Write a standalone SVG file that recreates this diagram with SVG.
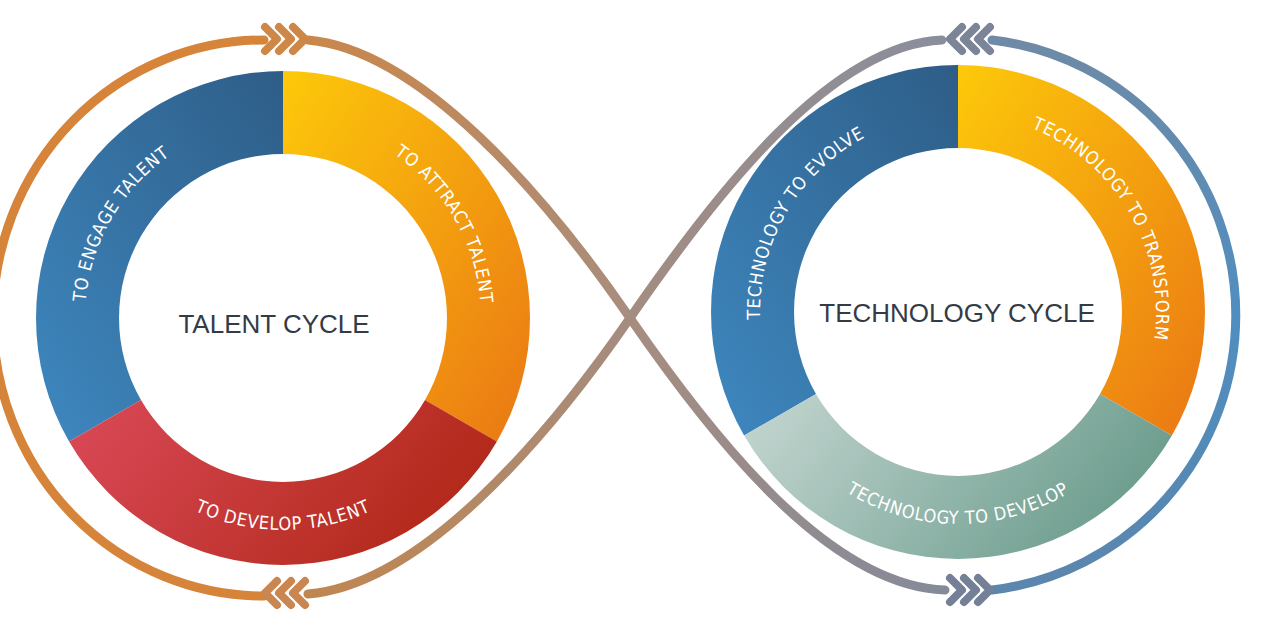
<svg xmlns="http://www.w3.org/2000/svg" width="1288" height="632" viewBox="0 0 1288 632">
<style>
.lbl{font-family:"Liberation Sans Narrow","DejaVu Sans Condensed","Liberation Sans",sans-serif;font-size:18px;fill:#fff;letter-spacing:0.8px}
.title{font-family:"Liberation Sans","DejaVu Sans",sans-serif;font-size:26px;fill:#343b45}
.chev{fill:none;stroke-width:8;stroke-linecap:round;stroke-linejoin:round}
.arc{fill:none;stroke-width:9;stroke-linecap:round}
</style>
<defs>
<linearGradient id="gY" x1="0" y1="0" x2="1" y2="1"><stop offset="0" stop-color="#fdc90a"/><stop offset="1" stop-color="#ea7714"/></linearGradient>
<linearGradient id="gB" x1="1" y1="0" x2="0" y2="1"><stop offset="0" stop-color="#2e5d87"/><stop offset="1" stop-color="#3e88c0"/></linearGradient>
<linearGradient id="gR" x1="0" y1="0" x2="1" y2="0.3"><stop offset="0" stop-color="#da4a59"/><stop offset="1" stop-color="#b3291a"/></linearGradient>
<linearGradient id="gT" x1="0" y1="0" x2="1" y2="0.3"><stop offset="0" stop-color="#c6d7d2"/><stop offset="1" stop-color="#6e9e8f"/></linearGradient>
<linearGradient id="gA" gradientUnits="userSpaceOnUse" x1="308" y1="40" x2="945" y2="590"><stop offset="0" stop-color="#c9874c"/><stop offset="0.5" stop-color="#a88d7e"/><stop offset="1" stop-color="#858a9a"/></linearGradient>
<linearGradient id="gS" gradientUnits="userSpaceOnUse" x1="308" y1="594" x2="942" y2="40"><stop offset="0" stop-color="#c08650"/><stop offset="0.5" stop-color="#a48c80"/><stop offset="1" stop-color="#8a8e9c"/></linearGradient>
<linearGradient id="gBl" gradientUnits="userSpaceOnUse" x1="0" y1="40" x2="0" y2="590"><stop offset="0" stop-color="#6f8aa6"/><stop offset="0.5" stop-color="#4f8ec0"/><stop offset="1" stop-color="#5b86ad"/></linearGradient>
<path id="pL1" d="M111.5,417 A198,198 0 0 1 283,120"/>
<path id="pL2" d="M283,120 A198,198 0 0 1 454.5,417"/>
<path id="pL3" d="M99.4,424 A212,212 0 0 0 466.6,424"/>
<path id="pR1" d="M786.5,411 A198,198 0 0 1 958,114"/>
<path id="pR2" d="M958,114 A198,198 0 0 1 1129.5,411"/>
<path id="pR3" d="M774.4,418 A212,212 0 0 0 1141.6,418"/>
</defs>
<g id="connectors">
<path class="arc" stroke="#d5843a" d="M264,40 A271,278 0 0 0 264,596"/>
<path class="arc" stroke="url(#gBl)" d="M992,40 A277,277 0 0 1 992,590"/>
<path class="arc" stroke="url(#gA)" d="M308,40 C420,50 545,195 630,318 C715,441 830,586 945,590"/>
<path class="arc" stroke="url(#gS)" d="M308,594 C420,585 545,441 630,318 C715,195 830,45 942,40"/>
<g class="chev" stroke="#cf8748">
<polyline points="265,27 277,39 265,51"/><polyline points="279,27 291,39 279,51"/><polyline points="293,27 305,39 293,51"/>
</g>
<g class="chev" stroke="#c98650">
<polyline points="277,581 265,593 277,605"/><polyline points="291,581 279,593 291,605"/><polyline points="305,581 293,593 305,605"/>
</g>
<g class="chev" stroke="#7b8597">
<polyline points="962,27 950,39 962,51"/><polyline points="976,27 964,39 976,51"/><polyline points="990,27 978,39 990,51"/>
</g>
<g class="chev" stroke="#738097">
<polyline points="950,578 962,590 950,602"/><polyline points="964,578 976,590 964,602"/><polyline points="978,578 990,590 978,602"/>
</g>
</g>
<g id="talent-cycle">
<path id="engage" fill="url(#gB)" d="M69.1,441.5 A247,247 0 0 1 283,71 L283,154 A164,164 0 0 0 141,400 Z"/>
<path id="attract" fill="url(#gY)" d="M283,71 A247,247 0 0 1 496.9,441.5 L425,400 A164,164 0 0 0 283,154 Z"/>
<path id="develop" fill="url(#gR)" d="M496.9,441.5 A247,247 0 0 1 69.1,441.5 L141,400 A164,164 0 0 0 425,400 Z"/>
<text class="lbl"><textPath href="#pL1" startOffset="50%" text-anchor="middle">TO ENGAGE TALENT</textPath></text>
<text class="lbl"><textPath href="#pL2" startOffset="50%" text-anchor="middle">TO ATTRACT TALENT</textPath></text>
<text class="lbl"><textPath href="#pL3" startOffset="50%" text-anchor="middle">TO DEVELOP TALENT</textPath></text>
<text class="title" x="274" y="333" text-anchor="middle">TALENT CYCLE</text>
</g>
<g id="technology-cycle">
<path id="evolve" fill="url(#gB)" d="M744.1,435.5 A247,247 0 0 1 958,65 L958,148 A164,164 0 0 0 816,394 Z"/>
<path id="transform" fill="url(#gY)" d="M958,65 A247,247 0 0 1 1171.9,435.5 L1100,394 A164,164 0 0 0 958,148 Z"/>
<path id="tdevelop" fill="url(#gT)" d="M1171.9,435.5 A247,247 0 0 1 744.1,435.5 L816,394 A164,164 0 0 0 1100,394 Z"/>
<text class="lbl"><textPath href="#pR1" startOffset="50%" text-anchor="middle">TECHNOLOGY TO EVOLVE</textPath></text>
<text class="lbl"><textPath href="#pR2" startOffset="50%" text-anchor="middle">TECHNOLOGY TO TRANSFORM</textPath></text>
<text class="lbl"><textPath href="#pR3" startOffset="50%" text-anchor="middle">TECHNOLOGY TO DEVELOP</textPath></text>
<text class="title" x="957" y="322" text-anchor="middle">TECHNOLOGY CYCLE</text>
</g>
</svg>
